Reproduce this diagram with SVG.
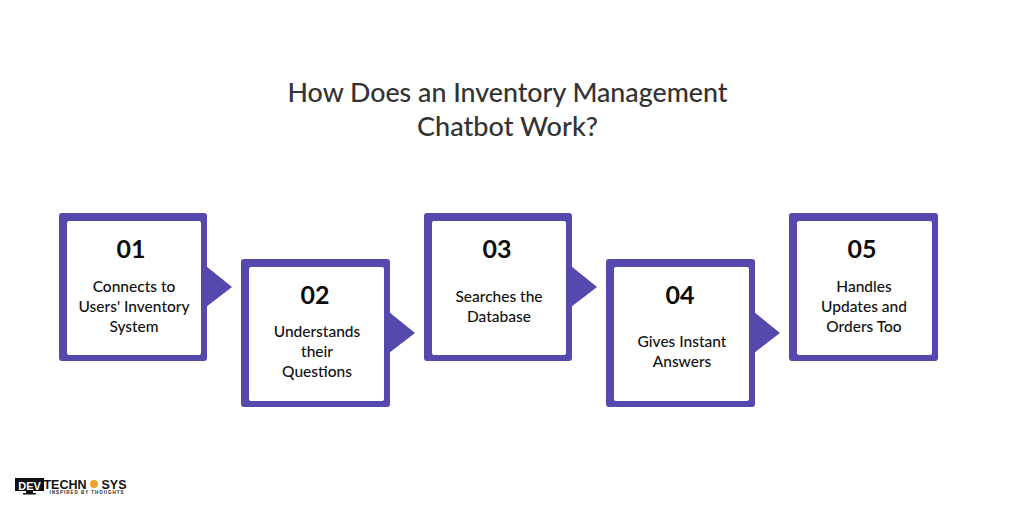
<svg xmlns="http://www.w3.org/2000/svg" width="1014" height="507" viewBox="0 0 1014 507">
<style>
text{font-family:"Lato","Liberation Sans",sans-serif;text-anchor:middle}
.t{font-size:27px;font-weight:500;fill:#333333}
.n{font-size:25px;font-weight:700;fill:#0c0c0c}
.l{font-size:15.5px;font-weight:500;fill:#111111}
.o{fill:#5549ae}
.i{fill:#ffffff}
</style>
<rect width="1014" height="507" fill="#ffffff"/>
<g id="title"><text class="t" x="507.500" y="102" textLength="440" lengthAdjust="spacingAndGlyphs">How Does an Inventory Management</text><text class="t" x="507.500" y="136" textLength="181" lengthAdjust="spacingAndGlyphs">Chatbot Work?</text></g>
<g id="connectors">
<path class="o" d="M206 266L232 287L206 307Z"/>
<path class="o" d="M389 312L415 333L389 353Z"/>
<path class="o" d="M571 266L597 287L571 307Z"/>
<path class="o" d="M754 312L780 333L754 353Z"/>
</g>
<g id="node-01"><rect class="o" x="59" y="213" width="148" height="148" rx="3"/><rect class="i" x="67" y="221" width="134" height="134" rx="2"/><text class="n" x="131" y="258">01</text><text class="l" x="134" y="292">Connects to</text><text class="l" x="134" y="312">Users' Inventory</text><text class="l" x="134" y="332">System</text></g>
<g id="node-02"><rect class="o" x="241" y="259" width="149" height="148" rx="3"/><rect class="i" x="249" y="267" width="135" height="134" rx="2"/><text class="n" x="315" y="304">02</text><text class="l" x="317" y="337">Understands</text><text class="l" x="317" y="357">their</text><text class="l" x="317" y="377">Questions</text></g>
<g id="node-03"><rect class="o" x="424" y="213" width="148" height="148" rx="3"/><rect class="i" x="432" y="221" width="134" height="134" rx="2"/><text class="n" x="497" y="258">03</text><text class="l" x="499" y="302">Searches the</text><text class="l" x="499" y="322">Database</text></g>
<g id="node-04"><rect class="o" x="606" y="259" width="149" height="148" rx="3"/><rect class="i" x="614" y="267" width="135" height="134" rx="2"/><text class="n" x="680" y="304">04</text><text class="l" x="682" y="347">Gives Instant</text><text class="l" x="682" y="367">Answers</text></g>
<g id="node-05"><rect class="o" x="789" y="213" width="149" height="148" rx="3"/><rect class="i" x="797" y="221" width="135" height="134" rx="2"/><text class="n" x="862" y="258">05</text><text class="l" x="864" y="292">Handles</text><text class="l" x="864" y="312">Updates and</text><text class="l" x="864" y="332">Orders Too</text></g>
<g id="logo">
<rect x="15" y="478" width="29" height="13" fill="#111"/><path d="M26 491h7v2h3v1.500h-13v-1.500h3z" fill="#111"/>
<text x="29.500" y="489.500" style="font-family:'Liberation Sans',sans-serif;font-size:11px;font-weight:700" fill="#fff">DEV</text>
<text x="65" y="489" style="font-family:'Liberation Sans',sans-serif;font-size:12.500px;font-weight:700" fill="#111">TECHN</text>
<circle cx="94" cy="484" r="4" fill="#f0a030"/>
<text x="114" y="489" style="font-family:'Liberation Sans',sans-serif;font-size:12.500px;font-weight:700" fill="#111">SYS</text>
<text x="87" y="493.500" style="font-family:'Liberation Sans',sans-serif;font-size:4.500px;font-weight:700;letter-spacing:1px" fill="#222">INSPIRED BY THOUGHTS</text>
</g>
</svg>
